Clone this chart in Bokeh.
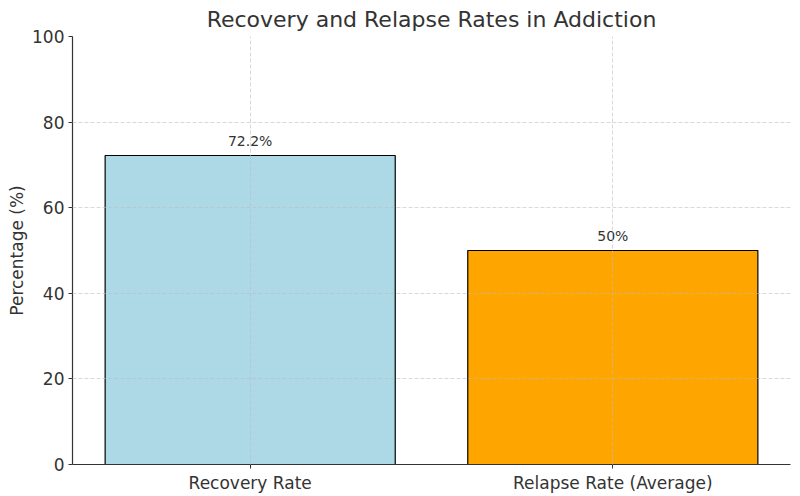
from bokeh.plotting import figure
from bokeh.models import ColumnDataSource, FactorRange, FixedTicker
from bokeh.embed import file_html
from bokeh.resources import INLINE
from bokeh.core.properties import value

categories = ["Recovery Rate", "Relapse Rate (Average)"]
rates = [72.2, 50.0]
labels = ["72.2%", "50%"]
colors = ["#ADD8E6", "#FFA500"]
y_ticks = [0, 20, 40, 60, 80, 100]

FONT = "DejaVu Sans"
TXT = "#333333"

src = ColumnDataSource(dict(cat=categories, rate=rates, label=labels, color=colors,
                            label_y=[r + 3.3 for r in rates]))

p = figure(width=800, height=496, output_backend="svg", toolbar_location=None,
           x_range=FactorRange(factors=categories, range_padding=-0.01),
           y_range=(0, 100),
           min_border_left=72, min_border_right=10, min_border_top=36, min_border_bottom=32)

p.vbar(x="cat", top="rate", width=0.8, source=src, fill_color="color",
       line_color="black", line_width=1.2)
p.text(x="cat", y="label_y", text="label", source=src, text_align="center",
       text_baseline="alphabetic", text_font=value(FONT), text_font_size="14px",
       text_color=TXT)

p.title.text = "Recovery and Relapse Rates in Addiction"
p.title.align = "center"
p.title.text_font = FONT
p.title.text_font_size = "22px"
p.title.text_font_style = "normal"
p.title.text_color = TXT
p.title.standoff = 9

p.yaxis.ticker = FixedTicker(ticks=y_ticks)
p.yaxis.axis_label = "Percentage (%)"
for ax in (p.xaxis[0], p.yaxis[0]):
    ax.axis_label_text_font = FONT
    ax.axis_label_text_font_style = "normal"
    ax.axis_label_text_font_size = "17px"
    ax.axis_label_text_color = TXT
    ax.major_label_text_font = FONT
    ax.major_label_text_font_size = "17px"
    ax.major_label_text_color = TXT
    ax.axis_line_color = "#333333"
    ax.axis_line_width = 1.2
    ax.major_tick_line_color = "#333333"
    ax.major_tick_out = 4
    ax.major_tick_in = 0
    ax.minor_tick_line_color = None
    ax.major_label_standoff = 4
p.yaxis.axis_label_standoff = 2

p.outline_line_color = None
for g in (p.xgrid[0], p.ygrid[0]):
    g.grid_line_color = "#bbbbbb"
    g.grid_line_alpha = 0.7
    g.grid_line_dash = "4 2"
    g.grid_line_width = 0.8
    g.level = "overlay"

open("out.html", "w").write(file_html(p, INLINE))
